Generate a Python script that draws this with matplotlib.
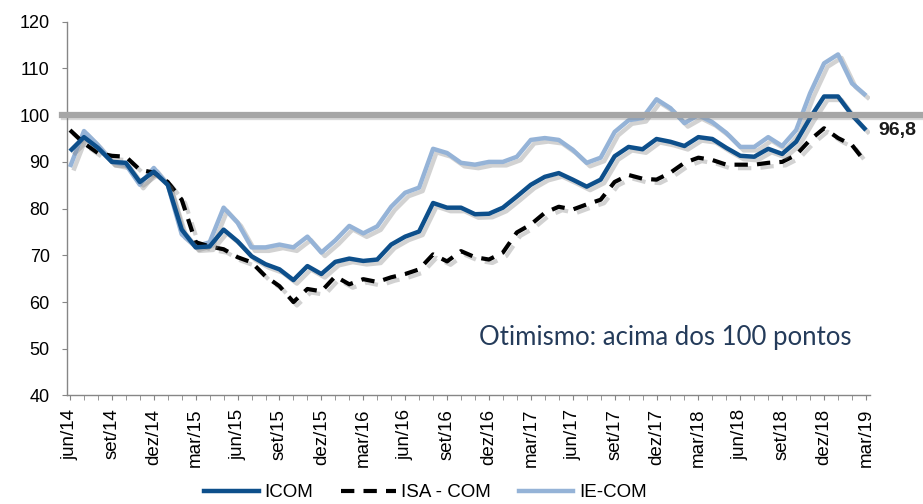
import matplotlib
matplotlib.use("Agg")
import matplotlib.pyplot as plt
import matplotlib.patheffects as pe
from matplotlib.lines import Line2D
import numpy as np

months = ["jun/14","jul/14","ago/14","set/14","out/14","nov/14","dez/14",
          "jan/15","fev/15","mar/15","abr/15","mai/15","jun/15","jul/15","ago/15","set/15","out/15","nov/15","dez/15",
          "jan/16","fev/16","mar/16","abr/16","mai/16","jun/16","jul/16","ago/16","set/16","out/16","nov/16","dez/16",
          "jan/17","fev/17","mar/17","abr/17","mai/17","jun/17","jul/17","ago/17","set/17","out/17","nov/17","dez/17",
          "jan/18","fev/18","mar/18","abr/18","mai/18","jun/18","jul/18","ago/18","set/18","out/18","nov/18","dez/18",
          "jan/19","fev/19","mar/19"]

icom = [92.3, 95.3, 93.0, 90.0, 89.8, 85.7, 87.9, 85.1, 75.5, 71.7, 71.9, 75.5, 73.0, 69.8, 68.1, 67.0,
        64.7, 67.7, 66.0, 68.6, 69.3, 68.8, 69.1, 72.3, 74.0, 75.1, 81.2, 80.2, 80.2, 78.8, 78.9, 80.2,
        82.6, 85.1, 86.8, 87.6, 86.2, 84.7, 86.2, 91.2, 93.2, 92.7, 94.9, 94.3, 93.4, 95.3, 94.9, 93.0,
        91.3, 91.1, 92.8, 91.7, 94.3, 99.4, 104.0, 104.0, 100.0, 96.8]

isa_com = [96.8, 94.0, 91.9, 91.3, 91.1, 88.3, 87.7, 85.7, 81.9, 72.8, 71.9, 71.3, 69.6, 68.5, 65.5, 63.4,
           60.0, 62.8, 62.3, 65.5, 63.8, 64.9, 64.3, 65.3, 66.0, 67.0, 70.2, 68.7, 70.9, 69.6, 69.1, 70.6,
           74.9, 76.6, 79.1, 80.4, 79.8, 80.9, 81.9, 85.7, 87.2, 86.4, 86.2, 87.7, 89.8, 90.9, 90.4, 89.4,
           89.4, 89.4, 89.8, 90.0, 91.5, 94.7, 97.2, 95.1, 93.6, 89.8]

ie_com = [88.9, 96.6, 93.6, 90.0, 89.4, 85.1, 88.7, 85.1, 74.5, 71.9, 72.8, 80.2, 77.0, 71.7, 71.7, 72.3,
          71.7, 74.0, 70.6, 73.2, 76.3, 74.7, 76.2, 80.4, 83.4, 84.5, 92.8, 91.9, 89.8, 89.4, 90.0, 90.0,
          91.1, 94.7, 95.1, 94.7, 92.6, 89.8, 90.9, 96.4, 98.9, 99.4, 103.4, 101.5, 98.3, 100.0, 98.5, 96.2,
          93.2, 93.2, 95.3, 93.4, 96.8, 104.7, 111.1, 113.0, 106.8, 104.2]

threshold = 100
last_label = "96,8"
note = "Otimismo: acima dos 100 pontos"
yticks = [40, 50, 60, 70, 80, 90, 100, 110, 120]

plt.rcParams['font.family'] = ['Liberation Sans', 'DejaVu Sans']

fig = plt.figure(figsize=(9.23, 5.04), dpi=100)
ax = fig.add_axes([0.0726, 0.2153, 0.870, 0.7416])

x = np.arange(len(months))
shadow = [pe.SimpleLineShadow(offset=(2.5, -2.5), shadow_color='#7f7f7f', alpha=0.35), pe.Normal()]

c_icom = '#0d4f8b'
c_ie = '#95b3d7'

ax.plot(x, ie_com, color=c_ie, lw=3.2, solid_capstyle='butt', path_effects=shadow, zorder=3)
ax.plot(x, isa_com, color='black', lw=3.0, linestyle=(0, (3.2, 2.2)), dash_capstyle='butt', path_effects=shadow, zorder=4)
ax.plot(x, icom, color=c_icom, lw=3.2, solid_capstyle='butt', path_effects=shadow, zorder=5)

ax.axhline(threshold, xmin=-0.006, xmax=1.08, color='#a6a6a6', lw=4.5, clip_on=False, zorder=6,
           path_effects=[pe.SimpleLineShadow(offset=(1.5, -1.5), shadow_color='#7f7f7f', alpha=0.3), pe.Normal()])

ax.set_xlim(-0.215, len(months) - 1 + 0.29)
ax.set_ylim(40, 120)
ax.set_yticks(yticks)
ax.set_yticklabels([str(v) for v in yticks], fontsize=13)

major_idx = list(range(0, len(months), 3))
ax.set_xticks(major_idx)
ax.set_xticklabels([months[i] for i in major_idx], rotation=90, fontsize=13.5)
ax.set_xticks(x, minor=True)

for s in ['top', 'right']:
    ax.spines[s].set_visible(False)
for s in ['left', 'bottom']:
    ax.spines[s].set_color('#868686')
    ax.spines[s].set_linewidth(1.0)

ax.tick_params(axis='y', direction='out', length=3.5, color='#868686', pad=9)
ax.tick_params(axis='x', which='both', direction='out', length=3.5, color='#868686', pad=6)

ax.text(1.01, 96.8, last_label, transform=ax.get_yaxis_transform(), fontsize=14, fontweight='bold',
        va='center', ha='left', color='#1a1a1a', clip_on=False)

ax.text(0.977, 52.5, note, transform=ax.get_yaxis_transform(), fontsize=18.5, family=['Lato', 'DejaVu Sans'],
        color='#243b5a', ha='right', va='center')

handles = [Line2D([], [], color=c_icom, lw=3.2),
           Line2D([], [], color='black', lw=3.0, linestyle=(0, (3.2, 2.2))),
           Line2D([], [], color=c_ie, lw=3.2)]
fig.legend(handles, ['ICOM', 'ISA - COM', 'IE-COM'], loc='center', bbox_to_anchor=(0.461, 0.022),
           ncol=3, frameon=False, fontsize=13.5, handlelength=2.9, handletextpad=0.3, columnspacing=1.5)

fig.savefig('out.png', dpi=100)
